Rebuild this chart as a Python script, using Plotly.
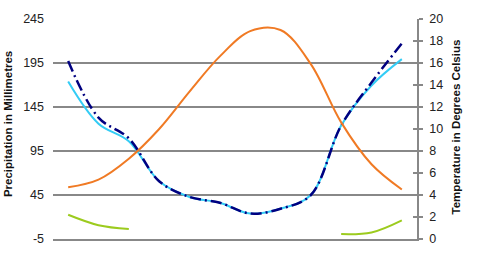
import plotly.graph_objects as go

months = ["Jan", "Feb", "Mar", "Apr", "May", "Jun", "Jul", "Aug", "Sep", "Oct", "Nov", "Dec"]
precip_a = [197.2, 133.0, 109.4, 60.6, 42.8, 36.1, 23.9, 29.4, 45.0, 123.9, 172.8, 217.2]
precip_b = [173.9, 126.0, 106.0, 60.6, 42.8, 36.1, 23.9, 29.4, 45.0, 123.9, 169.4, 199.4]
temp_mean = [4.7, 5.4, 7.3, 10.0, 13.4, 16.6, 18.9, 19.0, 15.9, 10.6, 6.8, 4.5]
temp_low = [2.2, 1.25, 0.9, None, None, None, None, None, None, 0.45, 0.6, 1.7]

left_ticks = [-5, 45, 95, 145, 195, 245]
left_labels = ["-5", "45", "95", "145", "195", "245"]
right_ticks = list(range(0, 21, 2))
left_title = "Precipitation in Millimetres"
right_title = "Temperature in Degrees Celsius"

x = list(range(len(months)))
FAM = "Liberation Sans, Arial, sans-serif"

fig = go.Figure()
fig.add_trace(go.Scatter(x=x, y=temp_mean, yaxis="y2", mode="lines",
                         line=dict(color="#F07A24", width=2, shape="spline"), name="Temperature"))
fig.add_trace(go.Scatter(x=x, y=temp_low, yaxis="y2", mode="lines", connectgaps=False,
                         line=dict(color="#9CCB1E", width=2, shape="spline"), name="Low"))
fig.add_trace(go.Scatter(x=x, y=precip_b, mode="lines",
                         line=dict(color="#33CCF5", width=2, shape="spline"), name="Precip B"))
fig.add_trace(go.Scatter(x=x, y=precip_a, mode="lines",
                         line=dict(color="#000080", width=2.5, shape="spline", dash="11px,4px,2px,4px"),
                         name="Precip A"))
# invisible trace to anchor an extra axis used only for inward tick marks
fig.add_trace(go.Scatter(x=[None], y=[None], yaxis="y3", showlegend=False, hoverinfo="skip"))

tickfont = dict(family=FAM, size=12.5, color="#222222")
titlefont = dict(family=FAM, size=11.5, color="#111111")

fig.update_layout(
    width=477, height=258,
    margin=dict(l=53, r=60, t=14, b=19),
    paper_bgcolor="white", plot_bgcolor="white",
    showlegend=False,
    xaxis=dict(range=[-0.5, 11.5], showticklabels=False, showgrid=False, zeroline=False,
               showline=True, linecolor="#888888", linewidth=1.5, ticks=""),
    yaxis=dict(range=[-5, 245], tickvals=left_ticks, ticktext=left_labels, showgrid=True,
               gridcolor="#888888", gridwidth=1.5, zeroline=False, showline=False, ticks="",
               tickfont=tickfont, ticklabelstandoff=8),
    yaxis2=dict(range=[0, 20], tickvals=right_ticks, overlaying="y", side="right",
                showgrid=False, zeroline=False, showline=True, linecolor="#888888", linewidth=1.5,
                ticks="outside", ticklen=4, tickcolor="#888888", tickwidth=1.5, tickfont=tickfont,
                ticklabelstandoff=4),
    yaxis3=dict(range=[0, 20], tickvals=right_ticks, overlaying="y", side="right",
                showgrid=False, zeroline=False, showline=False, showticklabels=False,
                ticks="inside", ticklen=4, tickcolor="#888888", tickwidth=1.5),
    annotations=[
        dict(text="<b>" + left_title + "</b>", textangle=-90, xref="paper", yref="paper",
             x=-53 / 364 + 7.5 / 364, y=(239 - 122) / 225, xanchor="center", yanchor="middle",
             showarrow=False, font=titlefont),
        dict(text="<b>" + right_title + "</b>", textangle=-90, xref="paper", yref="paper",
             x=(456 - 53) / 364, y=(239 - 125) / 225, xanchor="center", yanchor="middle",
             showarrow=False, font=titlefont),
    ],
)

fig.write_html("out.html")
